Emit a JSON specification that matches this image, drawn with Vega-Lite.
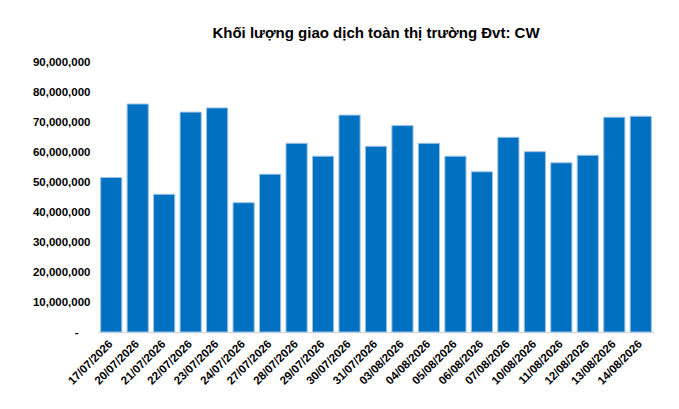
{
  "$schema": "https://vega.github.io/schema/vega-lite/v6.json",
  "autosize": {"type": "none"},
  "padding": {"left": 98, "top": 62, "right": 25, "bottom": 77},
  "width": 556,
  "height": 270,
  "background": "white",
  "title": {
    "text": "Khối lượng giao dịch toàn thị trường Đvt: CW",
    "font": "Liberation Sans",
    "fontSize": 15,
    "fontWeight": "bold",
    "color": "#000000",
    "anchor": "middle",
    "frame": "group",
    "offset": 15
  },
  "config": {
    "view": {"stroke": null},
    "font": "Liberation Sans"
  },
  "data": {
    "values": [
      {"date": "17/07/2026", "volume": 51500000},
      {"date": "20/07/2026", "volume": 76000000},
      {"date": "21/07/2026", "volume": 45900000},
      {"date": "22/07/2026", "volume": 73300000},
      {"date": "23/07/2026", "volume": 74700000},
      {"date": "24/07/2026", "volume": 43100000},
      {"date": "27/07/2026", "volume": 52600000},
      {"date": "28/07/2026", "volume": 62900000},
      {"date": "29/07/2026", "volume": 58600000},
      {"date": "30/07/2026", "volume": 72300000},
      {"date": "31/07/2026", "volume": 61900000},
      {"date": "03/08/2026", "volume": 68800000},
      {"date": "04/08/2026", "volume": 62900000},
      {"date": "05/08/2026", "volume": 58600000},
      {"date": "06/08/2026", "volume": 53400000},
      {"date": "07/08/2026", "volume": 64900000},
      {"date": "10/08/2026", "volume": 60100000},
      {"date": "11/08/2026", "volume": 56400000},
      {"date": "12/08/2026", "volume": 58900000},
      {"date": "13/08/2026", "volume": 71600000},
      {"date": "14/08/2026", "volume": 71900000}
    ]
  },
  "mark": {"type": "bar", "color": "#0070C0", "stroke": "#9DC3E6", "strokeWidth": 1},
  "encoding": {
    "x": {
      "field": "date",
      "type": "ordinal",
      "sort": null,
      "scale": {"paddingInner": 0.2, "paddingOuter": 0.1},
      "axis": {
        "title": null,
        "labelAngle": -45,
        "labelAlign": "right",
        "labelBaseline": "middle",
        "labelFont": "Liberation Sans",
        "labelFontSize": 11.5,
        "labelFontWeight": "bold",
        "labelColor": "#000000",
        "labelPadding": 10,
        "ticks": false,
        "domain": true,
        "domainColor": "#D9D9D9",
        "domainWidth": 1.5,
        "labelOverlap": false
      }
    },
    "y": {
      "field": "volume",
      "type": "quantitative",
      "scale": {"domain": [0, 90000000], "nice": false},
      "axis": {
        "title": null,
        "values": [0, 10000000, 20000000, 30000000, 40000000, 50000000, 60000000, 70000000, 80000000, 90000000],
        "format": ",d",
        "labelExpr": "datum.value === 0 ? '-' : datum.label",
        "labelFont": "Liberation Sans",
        "labelFontSize": 11.5,
        "labelFontWeight": "bold",
        "labelColor": "#000000",
        "labelPadding": {"condition": {"test": "datum.value === 0", "value": 20}, "value": 8},
        "ticks": false,
        "domain": false,
        "grid": false
      }
    }
  }
}
